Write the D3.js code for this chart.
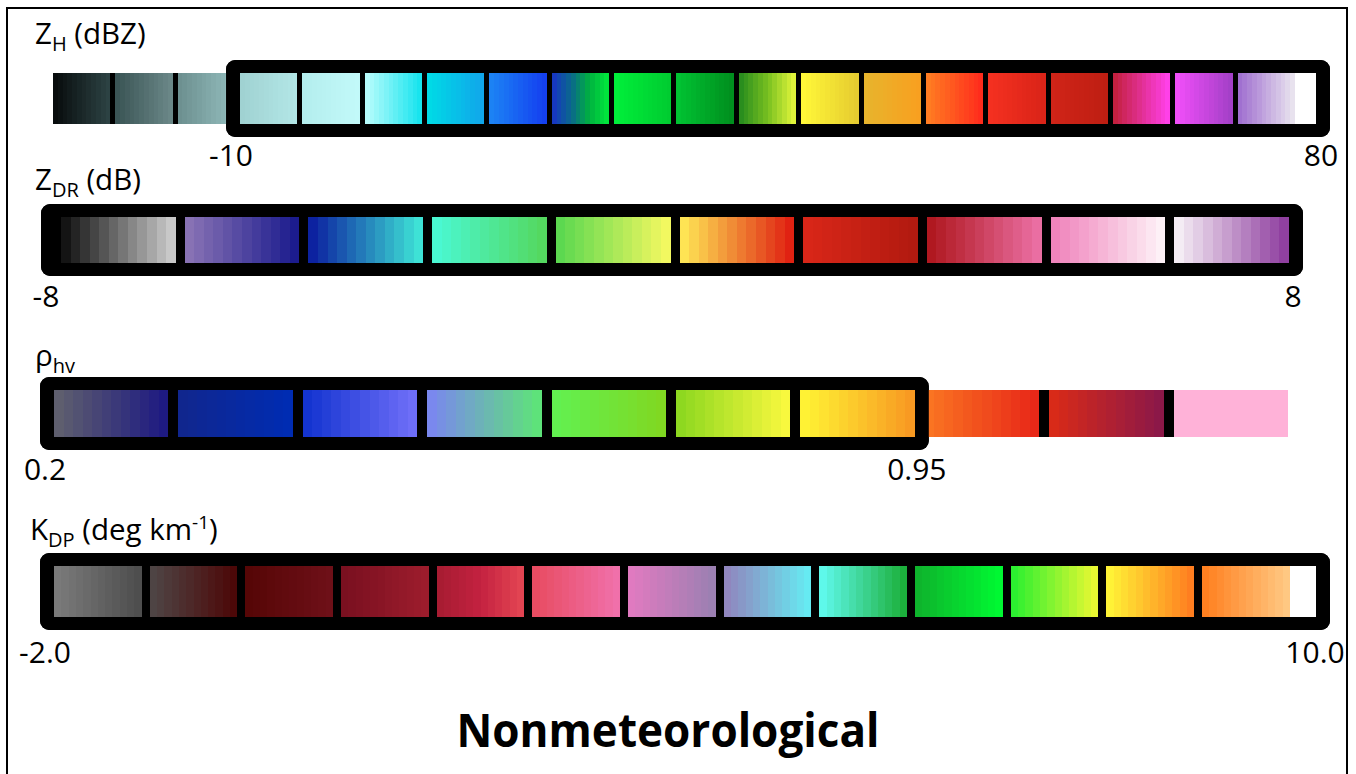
<!DOCTYPE html>
<html lang="en">
<head>
<meta charset="utf-8">
<title>Nonmeteorological</title>
<script src="https://d3js.org/d3.v7.min.js"></script>
<style>
  body { margin: 0; background: #fff; }
  text { font-family: "Open Sans", "Noto Sans", sans-serif; fill: #000; }
</style>
</head>
<body>
<script>

// ---- data: colour stops for each bin, range labels, highlighted bins ----
var zhColors = [
  ["#080c0d", "#2c4243"], ["#3b5556", "#6a8787"], ["#6d9090", "#92bcbc"],
  ["#a0d2d2", "#b2e6e6"], ["#b4eeee", "#c2f9f9"], ["#b6fcfc", "#18e4ee"],
  ["#00dae6", "#10a6ea"], ["#1c82f4", "#1440f0"], ["#1638c0", "#0a6a8a", "#00b040", "#00e53c"],
  ["#00ee3a", "#00cc30"], ["#00c232", "#008f1e"], ["#2a8e1e", "#78c020", "#e0f43a"],
  ["#fff738", "#e6cc30"], ["#e8b42c", "#f8a020"], ["#ff7c22", "#ff2c1c"],
  ["#f43020", "#da2418"], ["#d02418", "#be1e12"], ["#c42040", "#ff40e8"],
  ["#f04ef8", "#a440c8"], ["#a070d0", "#e8e2ee"], ["#ffffff", "#ffffff"]
];
var zhTicks = ["-10", "80"];
var zhRange = [3, 21];          // highlighted bins (start, end exclusive)

var zdrColors = [
  ["#141414", "#c8c8c8"], ["#8872b4", "#1c1c8e"], ["#0c22a0", "#3ee2d6"],
  ["#4af8d2", "#54d860"], ["#5cd850", "#f2f860"], ["#fee454", "#e02212"],
  ["#d82618", "#b21a10"], ["#b01820", "#ea6ea2"], ["#f084bc", "#fdf0f6"],
  ["#f4ecf4", "#9040a0"]
];
var zdrTicks = ["-8", "8"];
var zdrRange = [0, 10];

var rhoColors = [
  ["#5e5e6e", "#1e1a82"], ["#10268e", "#002cb2"], ["#1434d0", "#6e6ef8"],
  ["#7a88ee", "#5ee27a"], ["#62f050", "#80d822"], ["#8ed820", "#f8f83e"],
  ["#fff234", "#f89a22"], ["#fa7422", "#e82818"], ["#d82a18", "#8c1848"],
  ["#ffb2d8", "#ffb2d8"]
];
var rhoTicks = ["0.2", "0.95"];
var rhoRange = [0, 7];

var kdpColors = [
  ["#7a7a7a", "#4e4e4e"], ["#4e4444", "#4c0808"], ["#560606", "#6e1018"],
  ["#7a1020", "#9c1c2c"], ["#a81c32", "#c42240", "#e24452"], ["#e84c62", "#f070aa"],
  ["#e07ac0", "#9c80b2"], ["#9086be", "#66eaf2"], ["#5ef8ea", "#1cb03c"],
  ["#0eb42c", "#00f832"], ["#2cf030", "#e8f832"], ["#fff236", "#ff7e20"],
  ["#ff8020", "#ffc882"], ["#ffffff", "#ffffff"]
];
var kdpTicks = ["-2.0", "10.0"];
var kdpRange = [0, 14];

// ---- layout ----
var w = 1356, h = 774;
var pad = 13;

var bars = [
  { colors: zhColors, ticks: zhTicks, range: zhRange, cap: 0.257,
    x0: 53, x1: 1316, y0: 73, y1: 124, gap: 5, padL: 14, tickY: 166, tickR: -9,
    label: { x: 35, y: 44, parts: [["Z"], ["H", "sub"], [" (dBZ)"]] } },
  { colors: zdrColors, ticks: zdrTicks, range: zdrRange, cap: 0,
    x0: 61, x1: 1298, y0: 217, y1: 263, gap: 9, padL: 20, tickY: 307, tickR: -10,
    label: { x: 35, y: 190, parts: [["Z"], ["DR", "sub"], [" (dB)"]] } },
  { colors: rhoColors, ticks: rhoTicks, range: rhoRange, cap: 0,
    x0: 54, x1: 1298, y0: 390, y1: 437, gap: 10, padL: 14, tickY: 480, tickR: -12,
    label: { x: 35, y: 366, parts: [["ρ"], ["hv", "sub"]] } },
  { colors: kdpColors, ticks: kdpTicks, range: kdpRange, cap: 0.19,
    x0: 54, x1: 1316, y0: 566, y1: 617, gap: 8, padL: 14, tickY: 663, tickR: -15,
    label: { x: 30, y: 540, parts: [["K"], ["DP", "sub"], [" (deg km"], ["-1", "sup"], [")"]] } }
];

var svg = d3.select("body").append("svg")
    .attr("width", w)
    .attr("height", h);

svg.append("rect").attr("width", w).attr("height", h).attr("fill", "#fff");

// page frame
svg.append("rect")
    .attr("x", 7).attr("y", 8)
    .attr("width", 1340).attr("height", 800)
    .attr("fill", "none")
    .attr("stroke", "#000")
    .attr("stroke-width", 2);

bars.forEach(function(b) {
  var n = b.colors.length;
  var total = b.cap ? n - 1 + b.cap : n;
  var x = d3.scaleLinear().domain([0, total]).range([b.x0, b.x1]);
  var g = svg.append("g");

  // pixel extent of each bin
  var cells = b.colors.map(function(stops, i) {
    var isCap = b.cap && i === n - 1;
    var s = isCap ? x(i) - b.gap : x(i);
    var e = isCap ? x(total) : x(i + 1) - b.gap;
    return { stops: stops, s: s, e: e };
  });

  var fx0 = cells[b.range[0]].s - b.padL;
  var fx1 = cells[b.range[1] - 1].e + 14;
  var fy0 = b.y0 - pad, fy1 = b.y1 + pad;

  // black underlay shows through the gaps
  g.append("rect")
    .attr("x", cells[0].s)
    .attr("y", b.y0)
    .attr("width", cells[n - 1].e - cells[0].s)
    .attr("height", b.y1 - b.y0)
    .attr("fill", "#000");
  g.append("rect")
    .attr("x", fx0).attr("y", fy0)
    .attr("width", fx1 - fx0).attr("height", fy1 - fy0)
    .attr("rx", 9)
    .attr("fill", "#000");

  // each bin is a stepped gradient
  var k = 12;
  cells.forEach(function(c) {
    var interp = d3.piecewise(d3.interpolateRgb, c.stops);
    var sw = (c.e - c.s) / k;
    g.selectAll(null)
      .data(d3.range(k))
      .enter()
      .append("rect")
      .attr("x", function(j) { return c.s + j * sw; })
      .attr("y", b.y0)
      .attr("width", function(j) { return j === k - 1 ? sw : sw + 0.6; })
      .attr("height", b.y1 - b.y0)
      .attr("shape-rendering", "crispEdges")
      .attr("fill", function(j) { return interp(j / (k - 1)); });
  });

  // thick rounded frame round the highlighted bins
  g.append("rect")
    .attr("x", fx0 + pad / 2)
    .attr("y", fy0 + pad / 2)
    .attr("width", fx1 - fx0 - pad)
    .attr("height", fy1 - fy0 - pad)
    .attr("rx", 3)
    .attr("fill", "none")
    .attr("stroke", "#000")
    .attr("stroke-width", pad);

  // range labels under the frame ends
  g.selectAll("text.tick")
    .data(b.ticks)
    .enter()
    .append("text")
    .attr("class", "tick")
    .attr("x", function(d, i) { return i === 0 ? fx0 + 5 : fx1 + b.tickR; })
    .attr("y", b.tickY)
    .attr("text-anchor", "middle")
    .attr("font-size", 30)
    .text(function(d) { return d; });

  // variable name
  var t = g.append("text")
    .attr("x", b.label.x)
    .attr("y", b.label.y)
    .attr("font-size", 29.5);
  b.label.parts.forEach(function(p, i) {
    var sp = t.append("tspan").text(p[0]);
    var prev = i > 0 ? b.label.parts[i - 1][1] : null;
    if (p[1] === "sub") sp.attr("font-size", 20).attr("dy", 7);
    else if (p[1] === "sup") sp.attr("font-size", 19).attr("dy", -11);
    else if (prev === "sub") sp.attr("dy", -7);
    else if (prev === "sup") sp.attr("dy", 11);
  });
});

svg.append("text")
    .attr("x", 668)
    .attr("y", 747)
    .attr("text-anchor", "middle")
    .attr("font-size", 46)
    .attr("font-weight", "bold")
    .attr("textLength", 423)
    .attr("lengthAdjust", "spacingAndGlyphs")
    .text("Nonmeteorological");

</script>
</body>
</html>
